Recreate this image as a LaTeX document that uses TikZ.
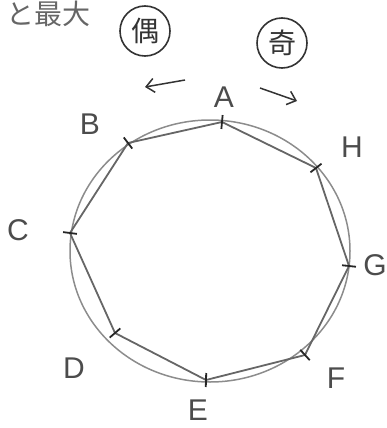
\documentclass[tikz,border=0pt]{standalone}
\usepackage{fontspec}
\setmainfont{Liberation Sans}
\newfontfamily\jpfont{Noto Sans CJK JP}
\usetikzlibrary{calc, arrows.meta}
\begin{document}
\begin{tikzpicture}[x=1pt, y=-1pt, >={Straight Barb[length=8pt, width=14pt]}]
                \useasboundingbox (0,0) rectangle (386,428);
                \tikzset{
                    letter/.style={text=black!70, font=\fontsize{30}{30}\selectfont, inner sep=0pt},
                    kanji/.style={draw=black!80, circle, line width=1.6pt, minimum size=50pt, text=black!80, font=\jpfont\fontsize{28}{28}\selectfont, inner sep=0pt},
                    tick/.style={black!85, line width=1.8pt}
                }
                % Circle
                \coordinate (ctr) at (210,251);
                \draw[black!45, line width=1.5pt] (ctr) ellipse [x radius=140pt, y radius=131pt];

                % Octagon vertices
                \coordinate (A) at (222,122);
                \coordinate (B) at (128,143);
                \coordinate (C) at (70,233);
                \coordinate (D) at (115,333);
                \coordinate (E) at (206,380);
                \coordinate (F) at (305,355);
                \coordinate (G) at (349,266);
                \coordinate (H) at (316,168);
                \draw[black!60, line width=1.8pt] (A) -- (B) -- (C) -- (D) -- (E) -- (F) -- (G) -- (H) -- cycle;

                % Ticks at the vertices
                \foreach \v in {A,B,C,D,E,F,G,H} {
                        \draw[tick] ($(\v)!7pt!(ctr)$) -- ($(\v)!-7pt!(ctr)$);
                    }

                % Vertex labels
                \foreach \v/\x/\y in {A/224/97, B/90/124, C/18/230, D/74/368, E/198/410, F/336/378, G/375/265, H/352/147} {
                        \node[letter] (lab\v) at (\x,\y) {\v};
                    }

                % Parity marks
                \node[kanji] (even) at (145,31) {偶};
                \node[kanji] (odd) at (282,43) {奇};
                \coordinate (evenS) at (185,80);
                \coordinate (evenE) at (145,87);
                \coordinate (oddS) at (260,88);
                \coordinate (oddE) at (297,101);
                \draw[->, black!80, line width=1.5pt] (evenS) -- (evenE);
                \draw[->, black!80, line width=1.5pt] (oddS) -- (oddE);

                % Cut-off text
                \node[anchor=west, text=black!60, font=\jpfont\fontsize{28}{28}\selectfont, inner sep=0pt] (top) at (6,14) {と最大};
            \end{tikzpicture}
\end{document}
